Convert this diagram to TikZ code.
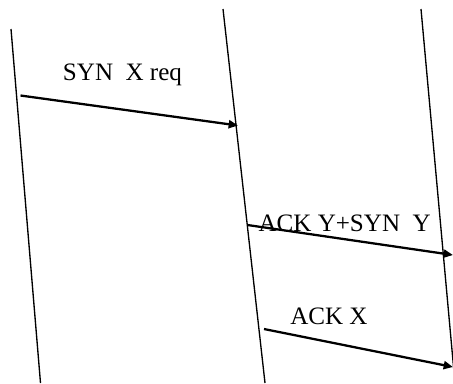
\documentclass[tikz,border=0pt]{standalone}
\usepackage{fontspec}
\setmainfont{Liberation Serif}
\usetikzlibrary{arrows.meta}

\tikzset{
  msg/.style={line width=1.7pt, -{Triangle[length=7pt,width=6pt]}},
  lifeline/.style={line width=1pt},
  lbl/.style={anchor=base west, inner sep=0pt, font=\fontsize{18.8}{22}\selectfont}
}

\begin{document}
\begin{tikzpicture}[x=0.75pt,y=0.75pt,yscale=-1,xscale=1]
        \useasboundingbox (0,0) rectangle (453,383);
        \clip (0,0) rectangle (453,383);

        %Lifelines
        \coordinate (aTop) at (11,29);
        \coordinate (aBot) at (40.5,383);
        \coordinate (bTop) at (223,9);
        \coordinate (bBot) at (265,383);
        \coordinate (cTop) at (421,9);
        \coordinate (cBot) at (455,383);
        \draw [lifeline] (aTop) -- (aBot);
        \draw [lifeline] (bTop) -- (bBot);
        \draw [lifeline] (cTop) -- (cBot);

        %Message ends
        \coordinate (synFrom) at (20.5,95.5);
        \coordinate (synTo) at (238,125.5);
        \coordinate (ackyFrom) at (247.5,225);
        \coordinate (ackyTo) at (453,255);
        \coordinate (ackxFrom) at (264,329);
        \coordinate (ackxTo) at (453,367);

        %Messages
        \draw [msg] (synFrom) -- (synTo);
        \draw [msg] (ackyFrom) -- (ackyTo);
        \draw [msg] (ackxFrom) -- (ackxTo);

        % Text Node
        \node [lbl] (synLbl) at (62.7,80) {SYN\ \ X req};
        % Text Node
        \node [lbl] (ackyLbl) at (258.3,231.7) {ACK Y+SYN\ \ Y};
        % Text Node
        \node [lbl] (ackxLbl) at (290,324.3) {ACK X};

\end{tikzpicture}
\end{document}
